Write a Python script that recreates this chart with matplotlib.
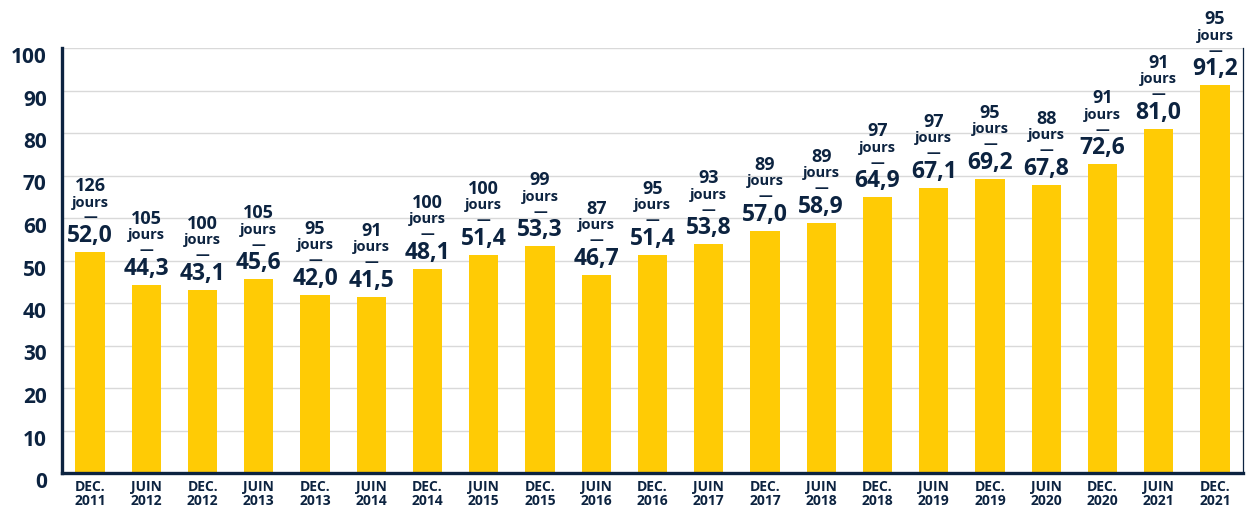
import matplotlib
matplotlib.use("Agg")
import matplotlib.pyplot as plt
from matplotlib.transforms import ScaledTranslation

periods = ["DEC.\n2011", "JUIN\n2012", "DEC.\n2012", "JUIN\n2013", "DEC.\n2013", "JUIN\n2014",
           "DEC.\n2014", "JUIN\n2015", "DEC.\n2015", "JUIN\n2016", "DEC.\n2016", "JUIN\n2017",
           "DEC.\n2017", "JUIN\n2018", "DEC.\n2018", "JUIN\n2019", "DEC.\n2019", "JUIN\n2020",
           "DEC.\n2020", "JUIN\n2021", "DEC.\n2021"]
values = [52.0, 44.3, 43.1, 45.6, 42.0, 41.5, 48.1, 51.4, 53.3, 46.7, 51.4,
          53.8, 57.0, 58.9, 64.9, 67.1, 69.2, 67.8, 72.6, 81.0, 91.2]
days = [126, 105, 100, 105, 95, 91, 100, 100, 99, 87, 95,
        93, 89, 89, 97, 97, 95, 88, 91, 91, 95]
yticks = [0, 10, 20, 30, 40, 50, 60, 70, 80, 90, 100]

NAVY = "#0c2340"
YELLOW = "#ffcb05"
W = 'bold'
plt.rcParams['font.family'] = ['Open Sans', 'DejaVu Sans']
plt.rcParams['font.weight'] = W

DPI = 100
fig = plt.figure(figsize=(12.48, 5.13), dpi=DPI)
ax = fig.add_axes([62/1248, 1-473/513, (1243-62)/1248, (473-48)/513])

x = list(range(len(values)))
ax.bar(x, values, width=0.52, color=YELLOW, zorder=3)

ax.set_xlim(-0.5, len(values)-0.5)
ax.set_ylim(0, 100)
ax.set_yticks(yticks)
ax.set_yticklabels([str(t) for t in yticks], fontsize=15, fontweight=W, color=NAVY)
ax.set_xticks(x)
ax.set_xticklabels(periods, fontsize=10, fontweight=W, color=NAVY, linespacing=1.05)
ax.tick_params(axis='y', length=0, pad=11)
ax.tick_params(axis='x', length=0, pad=5)
for lab in ax.get_yticklabels():
    lab.set_transform(lab.get_transform() + ScaledTranslation(0, -7/DPI, fig.dpi_scale_trans))

ax.grid(axis='y', color='#d9d9d9', linewidth=1, zorder=0)
ax.set_axisbelow(True)
ax.spines['top'].set_visible(False)
ax.spines['left'].set_linewidth(2.4)
ax.spines['left'].set_color(NAVY)
ax.spines['bottom'].set_linewidth(2.4)
ax.spines['bottom'].set_color(NAVY)
ax.spines['right'].set_linewidth(0.9)
ax.spines['right'].set_color(NAVY)
for s in ax.spines.values():
    s.set_zorder(4)

px = 72 / DPI
for xi, v, d in zip(x, values, days):
    common = dict(xy=(xi, v), textcoords='offset points', ha='center', va='center',
                  color=NAVY, fontweight=W, annotation_clip=False, zorder=5)
    ax.annotate(f"{v:.1f}".replace('.', ','), xytext=(0, 16*px), fontsize=16.5, **common)
    ax.annotate("—", xytext=(0, 34.5*px), fontsize=10, **common)
    ax.annotate("jours", xytext=(0, 49.5*px), fontsize=10.5, **common)
    ax.annotate(str(d), xytext=(0, 66*px), fontsize=13, **common)

fig.savefig("out.png", dpi=DPI)
